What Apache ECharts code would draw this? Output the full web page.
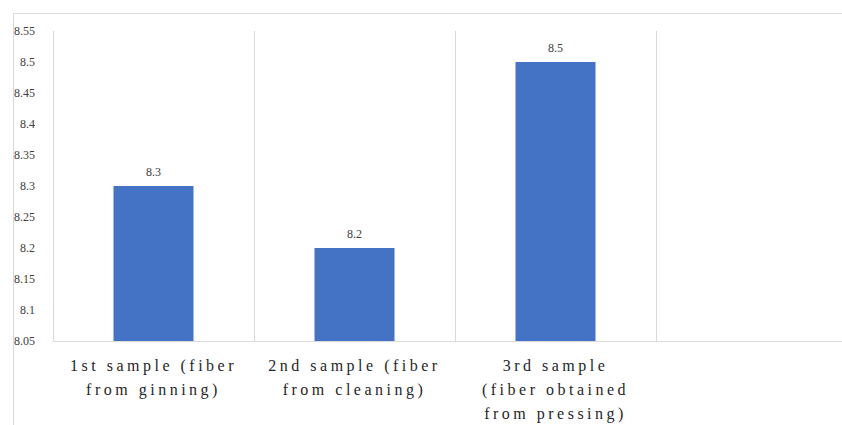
<!DOCTYPE html>
<html>
<head>
<meta charset="utf-8">
<script src="https://cdn.jsdelivr.net/npm/echarts@6/dist/echarts.min.js"></script>
<style>
  html, body { margin: 0; padding: 0; background: #fff; overflow: hidden; }
  #chart { width: 880px; height: 425px; }
  #chart text { font-family: "Liberation Serif", serif !important; }
  /* tracked-out category labels (the only 16px text in the chart) */
  #chart text[style*="16px"] { letter-spacing: 3.5px; }
</style>
</head>
<body>
<div id="chart"></div>
<script>
// Categories along the x axis (last slot is left empty)
const categories = [
  '1st sample (fiber\nfrom ginning)',
  '2nd sample (fiber\nfrom cleaning)',
  '3rd sample\n(fiber obtained\nfrom pressing)',
  ''
];
// Measured values per sample
const values = [8.3, 8.2, 8.5, '-'];
// Value axis range and step
const yMin = 8.05;
const yMax = 8.55;
const yStep = 0.05;

const serif = 'serif';

const chart = echarts.init(document.getElementById('chart'), null, { renderer: 'svg' });

chart.setOption({
  animation: false,
  backgroundColor: '#ffffff',
  graphic: [{
    type: 'rect',
    left: 11,
    top: 11,
    shape: { width: 900, height: 500 },
    style: { fill: 'none', stroke: '#d9d9d9', lineWidth: 1 },
    silent: true
  }],
  grid: { left: 53, top: 31, width: 804, height: 310, containLabel: false },
  xAxis: {
    type: 'category',
    data: categories,
    boundaryGap: true,
    axisLine: { show: true, lineStyle: { color: '#d9d9d9', width: 1 } },
    axisTick: { show: false },
    splitLine: { show: true, lineStyle: { color: '#d9d9d9', width: 1 } },
    axisLabel: {
      interval: 0,
      margin: 12,
      color: '#262626',
      fontFamily: serif,
      fontSize: 16,
      lineHeight: 24
    }
  },
  yAxis: {
    type: 'value',
    min: yMin,
    max: yMax,
    interval: yStep,
    axisLine: { show: false },
    axisTick: { show: false },
    splitLine: { show: false },
    axisLabel: {
      margin: 18,
      color: '#404040',
      fontFamily: serif,
      fontSize: 12,
      padding: [8, 0, 0, 0],
      formatter: v => String(Number(v.toFixed(2)))
    }
  },
  series: [{
    type: 'bar',
    data: values,
    barWidth: 80,
    itemStyle: { color: '#4472c4' },
    label: {
      show: true,
      position: 'top',
      distance: 8,
      color: '#404040',
      fontFamily: serif,
      fontSize: 12,
      formatter: p => String(p.value)
    }
  }]
});
</script>
</body>
</html>
